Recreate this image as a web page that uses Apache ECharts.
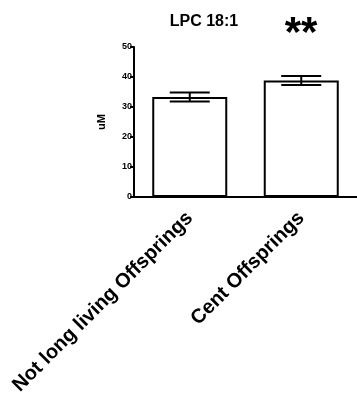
<!DOCTYPE html>
<html>
<head>
<meta charset="utf-8">
<script src="https://cdn.jsdelivr.net/npm/echarts@6/dist/echarts.min.js"></script>
<style>html,body{margin:0;padding:0;background:#fff}#c{width:357px;height:398px}</style>
</head>
<body>
<div id="c"></div>
<script>
var categories = ['Not long living Offsprings', 'Cent Offsprings'];
var means = [33.3, 38.8];
var errors = [1.5, 1.5];
var yTicks = [0, 10, 20, 30, 40, 50];
var titleText = 'LPC 18:1';
var sigText = '**';

var chart = echarts.init(document.getElementById('c'));
var font = 'Liberation Sans, Arial, sans-serif';
chart.setOption({
  animation: false,
  grid: { left: 134, top: 47, width: 224, height: 150 },
  graphic: [
    { type: 'text', x: 204, y: 22, style: { text: titleText, font: 'bold 16px ' + font, fill: '#000', align: 'center', verticalAlign: 'middle' } },
    { type: 'text', x: 301, y: 34, style: { text: sigText, font: 'bold 42px ' + font, fill: '#000', align: 'center', verticalAlign: 'middle' } }
  ],
  xAxis: {
    type: 'category',
    data: categories,
    axisLine: { lineStyle: { color: '#000', width: 2 } },
    axisTick: { alignWithLabel: true, length: 5, lineStyle: { color: '#000', width: 2 } },
    axisLabel: { rotate: 45, color: '#000', fontSize: 20, fontWeight: 'bold', fontFamily: font, margin: 18 }
  },
  yAxis: {
    type: 'value', min: yTicks[0], max: yTicks[yTicks.length - 1], interval: 10,
    name: 'uM', nameLocation: 'middle', nameGap: 27, nameRotate: 90,
    nameTextStyle: { color: '#000', fontSize: 11, fontWeight: 'bold', fontFamily: font },
    axisLine: { show: true, lineStyle: { color: '#000', width: 2 } },
    axisTick: { show: true, length: 4, lineStyle: { color: '#000', width: 2 } },
    axisLabel: { color: '#000', fontSize: 9, fontWeight: 'bold', fontFamily: font, margin: 2 },
    splitLine: { show: false }
  },
  series: [
    {
      type: 'bar', data: means, barWidth: 75,
      itemStyle: { color: '#fff', borderColor: '#000', borderWidth: 2 }
    },
    {
      type: 'custom',
      data: means.map(function (m, i) { return [i, m - errors[i], m + errors[i]]; }),
      renderItem: function (params, api) {
        var lo = api.coord([api.value(0), api.value(1)]);
        var hi = api.coord([api.value(0), api.value(2)]);
        var hw = 20;
        var st = { stroke: '#000', lineWidth: 2 };
        return { type: 'group', children: [
          { type: 'line', shape: { x1: lo[0], y1: lo[1], x2: hi[0], y2: hi[1] }, style: st },
          { type: 'line', shape: { x1: hi[0] - hw, y1: hi[1], x2: hi[0] + hw, y2: hi[1] }, style: st },
          { type: 'line', shape: { x1: lo[0] - hw, y1: lo[1], x2: lo[0] + hw, y2: lo[1] }, style: st }
        ]};
      },
      z: 10
    }
  ]
});
</script>
</body>
</html>
